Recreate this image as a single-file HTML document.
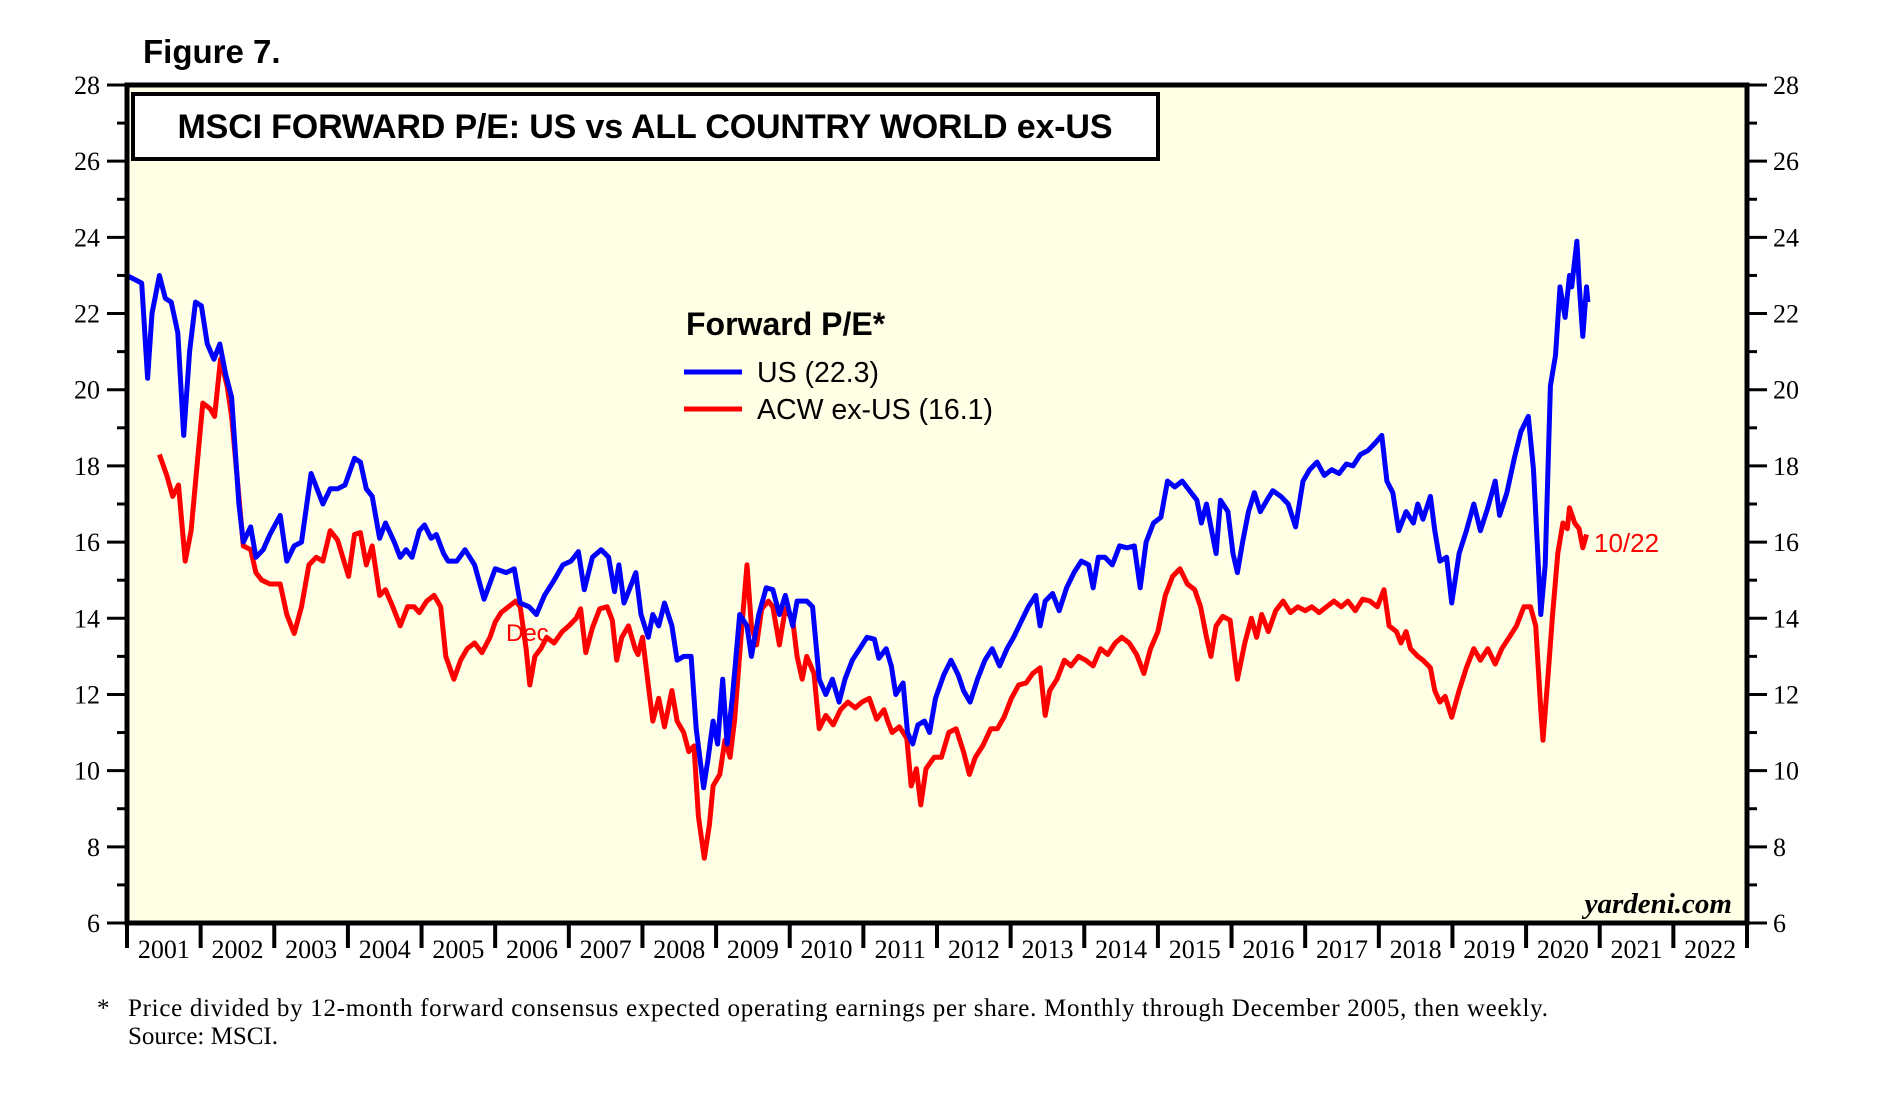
<!DOCTYPE html>
<html><head><meta charset="utf-8"><style>
html,body{margin:0;padding:0;background:#fff;}
svg{display:block;}
.tnr{font-family:"Liberation Serif",serif;}
.ar{font-family:"Liberation Sans",sans-serif;}
</style></head><body>
<svg id="chart" width="1888" height="1101" viewBox="0 0 1888 1101" xmlns="http://www.w3.org/2000/svg">
<text x="143" y="63" class="ar" font-size="33" font-weight="bold">Figure 7.</text>
<rect x="127" y="85" width="1620" height="838" fill="#ffffe6"/>
<g id="grid"></g>
<g id="series"></g>
<rect x="127" y="85" width="1620" height="838" fill="none" stroke="#000" stroke-width="5"/>
<rect x="133" y="94" width="1025" height="65" fill="#fff" stroke="#000" stroke-width="4"/>
<text x="645" y="138" text-anchor="middle" class="ar" font-size="34" font-weight="bold" textLength="935">MSCI FORWARD P/E: US vs ALL COUNTRY WORLD ex-US</text>
<g>
<text x="686" y="335" class="ar" font-size="32" font-weight="bold">Forward P/E*</text>
<line x1="684" y1="372" x2="742" y2="372" stroke="#0000ff" stroke-width="5"/>
<text x="757" y="382" class="ar" font-size="28.5">US (22.3)</text>
<line x1="684" y1="409" x2="742" y2="409" stroke="#ff0000" stroke-width="5"/>
<text x="757" y="419" class="ar" font-size="28.5">ACW ex-US (16.1)</text>
</g>
<text x="506" y="641" class="ar" font-size="24" fill="#ff0000">Dec</text>
<text x="1594" y="552" class="ar" font-size="26" fill="#ff0000">10/22</text>
<text x="1732" y="913" text-anchor="end" class="tnr" font-size="29" font-weight="bold" font-style="italic">yardeni.com</text>
<text x="97" y="1016" class="tnr" font-size="25">*</text>
<text x="128" y="1016" class="tnr" font-size="25" textLength="1420">Price divided by 12-month forward consensus expected operating earnings per share. Monthly through December 2005, then weekly.</text>
<text x="128" y="1044" class="tnr" font-size="25">Source: MSCI.</text>
</svg>
<script>
const yTicks = [6,8,10,12,14,16,18,20,22,24,26,28];
const years = [2001,2002,2003,2004,2005,2006,2007,2008,2009,2010,2011,2012,2013,2014,2015,2016,2017,2018,2019,2020,2021,2022];
const usDates = [2001.0,2001.2,2001.28,2001.34,2001.44,2001.52,2001.6,2001.69,2001.77,2001.85,2001.93,2002.01,2002.09,2002.18,2002.26,2002.34,2002.42,2002.52,2002.58,2002.68,2002.75,2002.85,2002.94,2003.08,2003.17,2003.27,2003.37,2003.5,2003.6,2003.66,2003.76,2003.86,2003.96,2004.09,2004.17,2004.25,2004.33,2004.43,2004.51,2004.63,2004.71,2004.79,2004.87,2004.97,2005.04,2005.13,2005.2,2005.3,2005.36,2005.48,2005.59,2005.72,2005.85,2006.0,2006.15,2006.26,2006.34,2006.46,2006.56,2006.67,2006.8,2006.92,2007.03,2007.13,2007.21,2007.32,2007.44,2007.54,2007.62,2007.68,2007.75,2007.81,2007.91,2007.98,2008.08,2008.14,2008.22,2008.3,2008.4,2008.47,2008.56,2008.66,2008.73,2008.83,2008.89,2008.96,2009.02,2009.09,2009.15,2009.22,2009.32,2009.42,2009.48,2009.58,2009.68,2009.77,2009.86,2009.94,2010.04,2010.1,2010.23,2010.31,2010.4,2010.49,2010.58,2010.67,2010.75,2010.85,2010.95,2011.05,2011.15,2011.21,2011.31,2011.38,2011.44,2011.54,2011.6,2011.67,2011.74,2011.83,2011.9,2011.98,2012.09,2012.19,2012.29,2012.36,2012.45,2012.55,2012.65,2012.75,2012.85,2012.95,2013.04,2013.14,2013.24,2013.34,2013.4,2013.47,2013.57,2013.66,2013.76,2013.86,2013.96,2014.06,2014.12,2014.19,2014.28,2014.38,2014.48,2014.58,2014.68,2014.76,2014.84,2014.94,2015.04,2015.13,2015.23,2015.33,2015.43,2015.53,2015.59,2015.66,2015.72,2015.79,2015.85,2015.95,2016.02,2016.08,2016.15,2016.23,2016.31,2016.39,2016.48,2016.56,2016.67,2016.77,2016.87,2016.97,2017.06,2017.16,2017.26,2017.36,2017.46,2017.56,2017.65,2017.75,2017.85,2017.95,2018.04,2018.11,2018.19,2018.27,2018.37,2018.47,2018.53,2018.6,2018.7,2018.76,2018.83,2018.92,2018.99,2019.09,2019.19,2019.29,2019.38,2019.48,2019.58,2019.64,2019.74,2019.84,2019.93,2020.03,2020.1,2020.2,2020.26,2020.33,2020.4,2020.46,2020.53,2020.59,2020.62,2020.69,2020.72,2020.77,2020.82,2020.84];
const usValues = [23.0,22.8,20.3,22.0,23.0,22.4,22.3,21.5,18.8,21.0,22.3,22.2,21.2,20.8,21.2,20.4,19.8,17.0,16.0,16.4,15.6,15.8,16.2,16.7,15.5,15.9,16.0,17.8,17.3,17.0,17.4,17.4,17.5,18.2,18.1,17.4,17.2,16.1,16.5,16.0,15.6,15.8,15.6,16.3,16.45,16.1,16.2,15.7,15.5,15.5,15.8,15.4,14.5,15.3,15.2,15.3,14.4,14.3,14.1,14.6,15.0,15.4,15.5,15.75,14.75,15.6,15.8,15.6,14.7,15.4,14.4,14.7,15.2,14.1,13.5,14.1,13.8,14.4,13.8,12.9,13.0,13.0,11.1,9.55,10.3,11.3,10.7,12.4,10.7,11.9,14.1,13.8,13.0,14.1,14.8,14.75,14.1,14.6,13.8,14.45,14.45,14.3,12.4,12.0,12.4,11.8,12.4,12.9,13.2,13.5,13.45,12.95,13.2,12.75,12.0,12.3,11.0,10.7,11.2,11.3,11.0,11.9,12.5,12.9,12.5,12.1,11.8,12.4,12.9,13.2,12.75,13.2,13.5,13.9,14.3,14.6,13.8,14.45,14.65,14.2,14.8,15.2,15.5,15.4,14.8,15.6,15.6,15.4,15.9,15.85,15.9,14.8,16.0,16.5,16.65,17.6,17.45,17.6,17.35,17.1,16.5,17.0,16.4,15.7,17.1,16.8,15.7,15.2,16.0,16.8,17.3,16.8,17.1,17.35,17.2,17.0,16.4,17.6,17.9,18.1,17.75,17.9,17.8,18.05,18.0,18.3,18.4,18.6,18.8,17.6,17.3,16.3,16.8,16.5,17.0,16.6,17.2,16.3,15.5,15.6,14.4,15.7,16.3,17.0,16.3,16.9,17.6,16.7,17.3,18.2,18.9,19.3,17.9,14.1,15.4,20.1,20.9,22.7,21.9,23.0,22.7,23.9,22.8,21.4,22.7,22.3];
const acwDates = [2001.44,2001.54,2001.62,2001.7,2001.79,2001.87,2001.96,2002.03,2002.13,2002.19,2002.27,2002.36,2002.42,2002.5,2002.58,2002.68,2002.75,2002.83,2002.94,2003.08,2003.17,2003.27,2003.37,2003.47,2003.57,2003.66,2003.76,2003.86,2004.01,2004.09,2004.17,2004.25,2004.33,2004.43,2004.51,2004.61,2004.71,2004.81,2004.9,2004.97,2005.07,2005.17,2005.26,2005.33,2005.44,2005.53,2005.62,2005.72,2005.82,2005.93,2006.0,2006.08,2006.18,2006.28,2006.34,2006.42,2006.47,2006.54,2006.62,2006.7,2006.8,2006.91,2007.0,2007.1,2007.16,2007.23,2007.32,2007.42,2007.52,2007.59,2007.65,2007.72,2007.81,2007.9,2007.94,2008.0,2008.08,2008.14,2008.22,2008.3,2008.4,2008.47,2008.56,2008.63,2008.7,2008.76,2008.84,2008.91,2008.96,2009.05,2009.12,2009.19,2009.25,2009.35,2009.42,2009.48,2009.55,2009.62,2009.71,2009.77,2009.86,2009.94,2010.04,2010.1,2010.17,2010.23,2010.33,2010.4,2010.49,2010.59,2010.69,2010.79,2010.89,2010.98,2011.08,2011.18,2011.28,2011.33,2011.39,2011.49,2011.59,2011.65,2011.72,2011.78,2011.85,2011.96,2012.06,2012.16,2012.26,2012.36,2012.44,2012.52,2012.62,2012.73,2012.82,2012.91,2013.01,2013.11,2013.21,2013.3,2013.4,2013.47,2013.53,2013.63,2013.73,2013.82,2013.92,2014.02,2014.12,2014.22,2014.32,2014.42,2014.51,2014.61,2014.71,2014.81,2014.9,2015.0,2015.1,2015.2,2015.3,2015.4,2015.5,2015.58,2015.66,2015.72,2015.79,2015.88,2015.98,2016.08,2016.18,2016.27,2016.34,2016.41,2016.5,2016.6,2016.7,2016.8,2016.9,2017.0,2017.09,2017.19,2017.29,2017.39,2017.49,2017.58,2017.68,2017.78,2017.88,2017.98,2018.07,2018.14,2018.24,2018.3,2018.37,2018.43,2018.53,2018.6,2018.7,2018.76,2018.83,2018.9,2018.99,2019.09,2019.19,2019.29,2019.38,2019.48,2019.58,2019.67,2019.77,2019.87,2019.97,2020.06,2020.13,2020.2,2020.23,2020.3,2020.36,2020.43,2020.5,2020.56,2020.59,2020.66,2020.72,2020.77,2020.82];
const acwValues = [18.3,17.75,17.2,17.5,15.5,16.3,18.2,19.65,19.5,19.3,20.8,20.1,19.3,17.6,15.9,15.8,15.2,15.0,14.9,14.9,14.1,13.6,14.3,15.4,15.6,15.5,16.3,16.05,15.1,16.2,16.25,15.4,15.9,14.6,14.75,14.3,13.8,14.3,14.3,14.15,14.45,14.6,14.3,13.0,12.4,12.9,13.2,13.35,13.1,13.5,13.9,14.15,14.3,14.45,14.3,13.2,12.25,13.0,13.2,13.5,13.35,13.65,13.8,14.0,14.25,13.1,13.75,14.25,14.3,13.95,12.9,13.5,13.8,13.2,13.05,13.5,12.25,11.3,11.9,11.15,12.1,11.3,11.0,10.5,10.65,8.8,7.7,8.6,9.6,9.9,10.8,10.35,11.3,13.8,15.4,13.8,13.3,14.25,14.45,14.3,13.3,14.25,13.95,13.0,12.4,13.0,12.55,11.1,11.45,11.2,11.6,11.8,11.65,11.8,11.9,11.35,11.6,11.3,11.0,11.15,10.85,9.6,10.05,9.1,10.05,10.35,10.35,11.0,11.1,10.5,9.9,10.35,10.65,11.1,11.1,11.4,11.9,12.25,12.3,12.55,12.7,11.45,12.1,12.4,12.9,12.75,13.0,12.9,12.75,13.2,13.05,13.35,13.5,13.35,13.05,12.55,13.2,13.65,14.6,15.1,15.3,14.9,14.75,14.3,13.5,13.0,13.8,14.05,13.95,12.4,13.35,14.0,13.5,14.1,13.65,14.2,14.45,14.15,14.3,14.2,14.3,14.15,14.3,14.45,14.3,14.45,14.2,14.5,14.45,14.3,14.75,13.8,13.65,13.35,13.65,13.2,13.0,12.9,12.7,12.1,11.8,11.95,11.4,12.1,12.7,13.2,12.9,13.2,12.8,13.2,13.5,13.8,14.3,14.3,13.8,11.6,10.8,12.55,14.1,15.7,16.5,16.35,16.9,16.5,16.35,15.85,16.2];

const X0 = 127, X1 = 1747, YT = 85, YB = 923, VMIN = 6, VMAX = 28, YR0 = 2001, YR1 = 2023;
function xS(t){ return X0 + (t - YR0) * (X1 - X0) / (YR1 - YR0); }
function yS(v){ return YB - (v - VMIN) * (YB - YT) / (VMAX - VMIN); }
const NS = 'http://www.w3.org/2000/svg';
const grid = document.getElementById('grid');
const series = document.getElementById('series');
function mk(tag, attrs, parent){ const e = document.createElementNS(NS, tag); for (const k in attrs) e.setAttribute(k, attrs[k]); parent.appendChild(e); return e; }

for (let v = VMIN; v <= VMAX; v++) {
  const major = yTicks.indexOf(v) >= 0;
  const y = yS(v);
  const tl = mk('line', {x1: major ? 107 : 117, x2: 127, y1: y, y2: y, stroke: '#000', 'stroke-width': 3}, grid);
  
  
  const tr = mk('line', {x1: 1747, x2: major ? 1767 : 1757, y1: y, y2: y, stroke: '#000', 'stroke-width': 3}, grid);
  
  
}
yTicks.forEach(v => {
  const y = yS(v);
  const l = mk('text', {x: 100, y: y + 9, 'text-anchor': 'end', 'font-size': 26, 'font-family': 'Liberation Serif, serif'}, grid);
  l.textContent = v;
  
  
  const r = mk('text', {x: 1773, y: y + 9, 'font-size': 26, 'font-family': 'Liberation Serif, serif'}, grid);
  r.textContent = v;
  
  
});
for (let i = 0; i <= years.length; i++) {
  const x = xS(YR0 + i);
  const t = mk('line', {x1: x, x2: x, y1: 923, y2: 948, stroke: '#000', 'stroke-width': 4}, grid);
  
  
}
years.forEach(yr => {
  const l = mk('text', {x: xS(yr + 0.5), y: 958, 'text-anchor': 'middle', 'font-size': 26, 'font-family': 'Liberation Serif, serif'}, grid);
  l.textContent = yr;
  
  
});
function line(dates, vals, color, name){
  const d = dates.map((t, i) => (i ? 'L' : 'M') + xS(t).toFixed(1) + ',' + yS(vals[i]).toFixed(1)).join('');
  const p = mk('path', {d: d, fill: 'none', stroke: color, 'stroke-width': 5, 'stroke-linejoin': 'round'}, series);
  
  
}
line(acwDates, acwValues, '#ff0000', 'acw-ex-us-line');
line(usDates, usValues, '#0000ff', 'us-line');
</script>
</body></html>
